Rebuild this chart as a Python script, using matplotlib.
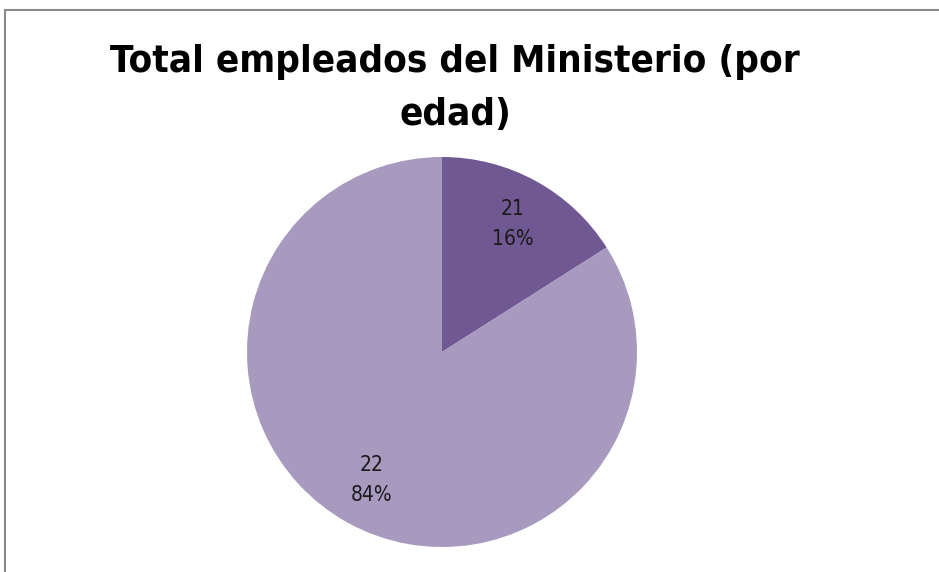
import matplotlib
matplotlib.use("Agg")
import matplotlib.pyplot as plt
from matplotlib.lines import Line2D

# data
categories = ["21", "22"]
values = [16, 84]
colors = ["#705892", "#A899BF"]
title_lines = ["Total empleados del Ministerio (por", "edad)"]

W, H = 939, 572
fig = plt.figure(figsize=(W / 100, H / 100), dpi=100)
fig.patch.set_facecolor("white")

# pie axes: center (442, 352), radius 195 px
cx, cy, r = 442, 352, 195
ax = fig.add_axes([(cx - r) / W, (H - cy - r) / H, 2 * r / W, 2 * r / H])

names = iter(categories)
wedges, texts, autotexts = ax.pie(
    values, colors=colors, startangle=90, counterclock=False,
    autopct=lambda p: f"{next(names)}\n{p:.0f}%", pctdistance=0.75,
    textprops=dict(fontsize=15, color="#1a1a1a", fontstretch="condensed",
                   linespacing=1.6),
    wedgeprops=dict(linewidth=0))
ax.set_xlim(-1, 1)
ax.set_ylim(-1, 1)
ax.axis("off")

# title, two lines at the reference baselines
for line, base in zip(title_lines, [72, 125]):
    fig.text(455 / W, 1 - base / H, line, ha="center", va="baseline",
             fontsize=27.6, fontweight="bold", fontstretch="condensed")

# chart border (top and left visible)
fig.add_artist(Line2D([4.5 / W, 1.0], [1 - 9.5 / H] * 2, color="#8a8a8a", lw=1.5))
fig.add_artist(Line2D([4.5 / W] * 2, [0, 1 - 9.5 / H], color="#8a8a8a", lw=1.5))

fig.savefig("out.png", dpi=100)
